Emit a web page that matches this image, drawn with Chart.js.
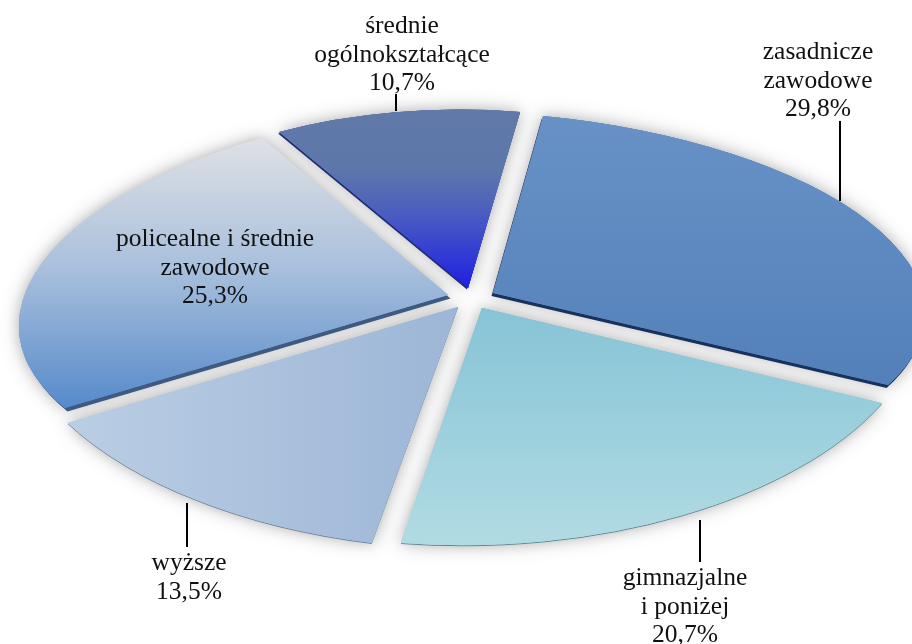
<!DOCTYPE html>
<html>
<head>
<meta charset="utf-8">
<style>
  html, body { margin: 0; padding: 0; background: #fff; }
  canvas { display: block; }
</style>
<script src="https://cdn.jsdelivr.net/npm/chart.js@4/dist/chart.umd.js"></script>
</head>
<body>
<canvas id="myChart" width="912" height="644"></canvas>
<script>
const categories = [
    ['zasadnicze', 'zawodowe'],
    ['gimnazjalne', 'i poniżej'],
    ['wyższe'],
    ['policealne i średnie', 'zawodowe'],
    ['średnie', 'ogólnokształcące'],
]
const values = [29.8, 20.7, 13.5, 25.3, 10.7]

// the reference is a tilted, exploded pie: every slice gets its own view of the circle
const RADIUS = 100
const sliceShift = [[493, 293], [482, 308], [458, 307], [448, 295], [468, 288]]
const sliceView = [
    [4.322, 0.189, 0.041, 1.808],
    [4.449, -0.035, -0.117, 2.373],
    [4.523, 0.159, -0.157, 2.415],
    [4.27, -0.123, -0.42, 1.914],
    [3.725, 0.072, -0.055, 1.783],
]

// axis 1 = top to bottom on screen, axis 0 = left to right; stops are [screen position, colour]
const sliceFill = [
    {axis: 1, stops: [[115, '#6892c6'], [385, '#5480ba']]},
    {axis: 1, stops: [[308, '#86c4d6'], [545, '#b1dbe3']]},
    {axis: 0, stops: [[68, '#bacee4'], [458, '#9db6d7']]},
    {axis: 1, stops: [[138, '#dfe1e5'], [270, '#a8bfdc'], [405, '#588bcb']]},
    {axis: 1, stops: [[112, '#6079a8'], [170, '#5d77ab'], [215, '#4a5cc2'], [288, '#1f1fe2']]},
]
const edgeColors = ['#17325c', '#5d8794', '#71829b', '#3f5a80', '#1d2b72']
const edgeOffset = [[-1.5, 3], [0, 1], [0, 1], [2.5, 3.5], [-1, 1.5]]

const labelX = [818, 685, 189, 215, 402]
const labelY = [59, 585, 570, 246, 33]
const leaders = [[840, 121, 201], [700, 520, 562], [187, 503, 547], null, [396, 94, 111]]

function percent(v) {
    return v.toFixed(1).replace('.', ',') + '%'
}

function sliceGradient(context) {
    const i = context.dataIndex
    const chart = context.chart
    if (i === undefined || !chart.chartArea) return '#888'
    const area = chart.chartArea
    const cx = (area.left + area.right) / 2
    const cy = (area.top + area.bottom) / 2
    const fill = sliceFill[i]
    const m = sliceView[i]
    const p = fill.axis === 0 ? m[0] : m[1]
    const q = fill.axis === 0 ? m[2] : m[3]
    const len = p * p + q * q
    const origin = sliceShift[i][fill.axis]
    const from = fill.stops[0][0]
    const to = fill.stops[fill.stops.length - 1][0]
    const g = chart.ctx.createLinearGradient(
        cx + p * (from - origin) / len, cy + q * (from - origin) / len,
        cx + p * (to - origin) / len, cy + q * (to - origin) / len)
    fill.stops.forEach(s => g.addColorStop((s[0] - from) / (to - from), s[1]))
    return g
}

function drawSlice(ctx, arc, i) {
    const m = sliceView[i]
    ctx.translate(sliceShift[i][0], sliceShift[i][1])
    ctx.transform(m[0], m[1], m[2], m[3], 0, 0)
    ctx.translate(-arc.x, -arc.y)
    arc.draw(ctx)
}

const tiltedSlices = {
    id: 'tiltedSlices',
    beforeDatasetDraw(chart, args) {
        const ctx = chart.ctx
        const arcs = args.meta.data
        // soft grey halo first, so no slice darkens its neighbour
        ;[[20, 0.22], [12, 0.15]].forEach(halo => {
            arcs.forEach((arc, i) => {
                ctx.save()
                ctx.shadowColor = 'rgba(0,0,0,' + halo[1] + ')'
                ctx.shadowBlur = halo[0]
                drawSlice(ctx, arc, i)
                ctx.restore()
            })
        })
        arcs.forEach((arc, i) => {
            ctx.save()
            ctx.shadowColor = edgeColors[i]
            ctx.shadowOffsetX = edgeOffset[i][0]
            ctx.shadowOffsetY = edgeOffset[i][1]
            drawSlice(ctx, arc, i)
            ctx.restore()
        })
        arcs.forEach((arc, i) => {
            ctx.save()
            drawSlice(ctx, arc, i)
            ctx.restore()
        })
        return false
    },
    afterDraw(chart) {
        const ctx = chart.ctx
        ctx.save()
        ctx.strokeStyle = '#000'
        ctx.lineWidth = 2
        leaders.forEach(l => {
            if (!l) return
            ctx.beginPath()
            ctx.moveTo(l[0], l[1])
            ctx.lineTo(l[0], l[2])
            ctx.stroke()
        })
        ctx.fillStyle = '#111'
        ctx.font = '25.5px "Liberation Serif"'
        ctx.textAlign = 'center'
        ctx.textBaseline = 'alphabetic'
        categories.forEach((lines, i) => {
            lines.concat(percent(values[i])).forEach((line, n) => {
                ctx.fillText(line, labelX[i], labelY[i] + n * 28.5)
            })
        })
        ctx.restore()
    }
}

const myChart = new Chart(document.getElementById('myChart'), {
    type: 'pie',
    data: {
        labels: categories.map(c => c.join(' ')),
        datasets: [{
            data: values,
            backgroundColor: sliceGradient,
            borderWidth: 0,
        }]
    },
    options: {
        responsive: false,
        animation: false,
        rotation: 7.2,
        radius: RADIUS,
        events: [],
        plugins: {
            legend: {display: false},
            tooltip: {enabled: false},
        },
    },
    plugins: [tiltedSlices],
})
</script>
</body>
</html>
